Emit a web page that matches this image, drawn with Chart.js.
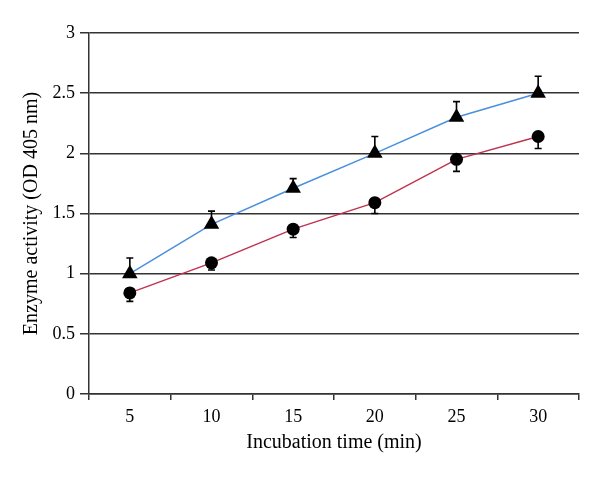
<!DOCTYPE html>
<html>
<head>
<meta charset="utf-8">
<script src="https://cdn.jsdelivr.net/npm/chart.js@4"></script>
<style>
  body { margin: 0; background: #fff; }
  canvas { display: block; }
</style>
</head>
<body>
<canvas id="enzyme-chart" width="600" height="477"></canvas>
<script>
const times = ["5", "10", "15", "20", "25", "30"];
const triangleValues = [1.0, 1.41, 1.71, 2.0, 2.3, 2.5];
const triangleErrors = [0.13, 0.11, 0.08, 0.14, 0.13, 0.14];
const circleValues = [0.84, 1.09, 1.37, 1.59, 1.95, 2.14];
const circleErrors = [0.07, 0.06, 0.07, 0.09, 0.1, 0.1];
const yTicks = [0, 0.5, 1, 1.5, 2, 2.5, 3];

const axisColor = "#333333";
const fontFamily = "'Liberation Serif', 'DejaVu Serif', serif";

// one-sided error bars: triangles go up, circles go down
const errorBars = {
  id: "errorBars",
  beforeDatasetsDraw(chart) {
    const ctx = chart.ctx;
    const x = chart.scales.x;
    const y = chart.scales.y;
    chart.data.datasets.forEach((ds) => {
      ds.data.forEach((v, i) => {
        const px = x.getPixelForValue(i);
        const py0 = y.getPixelForValue(v);
        const py1 = y.getPixelForValue(v + ds.errorDir * ds.errors[i]);
        ctx.save();
        ctx.strokeStyle = "#000";
        ctx.lineWidth = 1.6;
        ctx.beginPath();
        ctx.moveTo(px, py0);
        ctx.lineTo(px, py1);
        ctx.moveTo(px - 3.5, py1);
        ctx.lineTo(px + 3.5, py1);
        ctx.stroke();
        ctx.restore();
      });
    });
  },
};

new Chart(document.getElementById("enzyme-chart"), {
  type: "line",
  data: {
    labels: times,
    datasets: [
      {
        label: "Triangle",
        data: triangleValues,
        errors: triangleErrors,
        errorDir: 1,
        borderColor: "#4a8fdc",
        borderWidth: 1.5,
        pointStyle: "triangle",
        pointRadius: 9,
        pointBackgroundColor: "#000",
        pointBorderColor: "#000",
        pointBorderWidth: 0,
        tension: 0,
      },
      {
        label: "Circle",
        data: circleValues,
        errors: circleErrors,
        errorDir: -1,
        borderColor: "#c0334f",
        borderWidth: 1.5,
        pointStyle: "circle",
        pointRadius: 6.5,
        pointBackgroundColor: "#000",
        pointBorderColor: "#000",
        pointBorderWidth: 0,
        tension: 0,
      },
    ],
  },
  options: {
    responsive: false,
    animation: false,
    layout: { padding: { top: 33, right: 21, left: 0, bottom: 0 } },
    plugins: {
      legend: { display: false },
      tooltip: { enabled: false },
    },
    scales: {
      x: {
        offset: true,
        afterFit: (scale) => { scale.height = 83; },
        grid: {
          offset: true,
          drawOnChartArea: false,
          drawTicks: true,
          tickLength: 6,
          color: axisColor,
          lineWidth: 1.5,
        },
        border: { color: axisColor, width: 1.5 },
        ticks: {
          color: "#000",
          padding: 6,
          font: { family: fontFamily, size: 18 },
        },
        title: {
          display: true,
          text: "Incubation time (min)",
          color: "#000",
          padding: { top: 0, bottom: 22 },
          font: { family: fontFamily, size: 20 },
        },
      },
      y: {
        min: 0,
        max: 3,
        afterFit: (scale) => { scale.width = 89; },
        afterBuildTicks: (scale) => {
          scale.ticks = yTicks.map((v) => ({ value: v }));
        },
        grid: {
          drawTicks: true,
          tickLength: 9,
          color: axisColor,
          lineWidth: 1.5,
        },
        border: { color: axisColor, width: 1.5 },
        ticks: {
          color: "#000",
          padding: 5,
          font: { family: fontFamily, size: 18 },
          callback: (value) => String(value),
        },
        title: {
          display: true,
          text: "Enzyme activity (OD 405 nm)",
          color: "#000",
          padding: { top: 20, bottom: 0 },
          font: { family: fontFamily, size: 20 },
        },
      },
    },
  },
  plugins: [errorBars],
});
</script>
</body>
</html>
